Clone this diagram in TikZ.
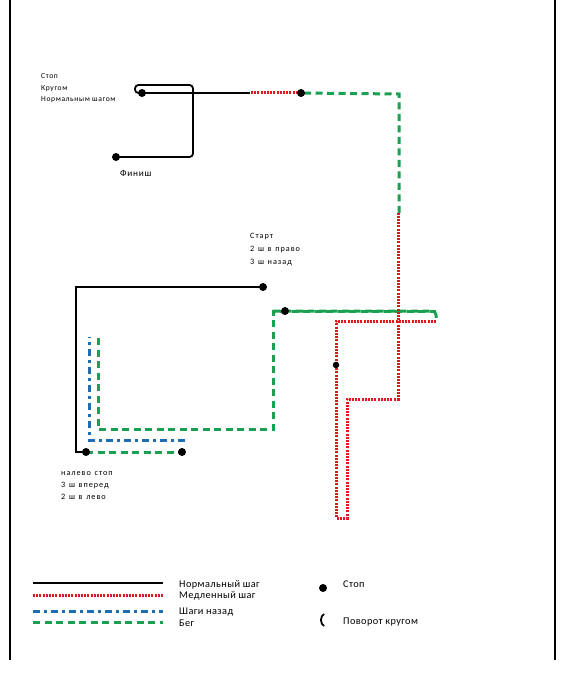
\documentclass[tikz,border=0pt]{standalone}
\usepackage{fontspec}
\setmainfont{Carlito}
\newfontfamily\topfont[LetterSpace=8]{Carlito}
\newfontfamily\midfont[LetterSpace=12,WordSpace=1.3]{Carlito}
\newfontfamily\legfont[LetterSpace=4]{Carlito}
\newfontfamily\finfont[LetterSpace=8]{Carlito}
\begin{document}
\begin{tikzpicture}[x=1pt,y=-1pt,
  normal/.style={line width=1.8pt,black},
  slow/.style={line width=3pt,color=rtred,dash pattern=on 2pt off 1.2pt},
  back/.style={line width=3pt,color=rtblue,dash pattern=on 7pt off 4pt on 3pt off 4pt},
  run/.style={line width=3pt,color=rtgreen,dash pattern=on 7pt off 4.5pt},
  stopdot/.style={circle,fill=black,inner sep=0pt,minimum size=8pt},
  small/.style={font=\topfont\fontsize{7.6}{8}\selectfont,inner sep=0pt,anchor=base west},
  mid/.style={font=\midfont\fontsize{8.2}{9}\selectfont,inner sep=0pt,anchor=base west},
  leg/.style={font=\legfont\fontsize{10.3}{12}\selectfont,inner sep=0pt,anchor=base west},
  fin/.style={font=\finfont\fontsize{9.3}{10}\selectfont,inner sep=0pt,anchor=base west},
  frame/.style={line width=1.1pt,black}]
\definecolor{rtred}{RGB}{225,25,30}
\definecolor{rtgreen}{RGB}{25,160,80}
\definecolor{rtblue}{RGB}{30,110,180}
\useasboundingbox (0,0) rectangle (564,684);
\fill[white] (0,0) rectangle (564,684);
% frame lines
\draw[frame] (10,0) -- (10,660);
\draw[frame] (555,0) -- (555,660);

% coordinates of the route
\coordinate (s1) at (263,287);
\coordinate (s2) at (76,287);
\coordinate (s3) at (76,452);
\coordinate (s4) at (86,452);
\coordinate (s5) at (182,452);
\coordinate (b1) at (185,440);
\coordinate (b2) at (89,440);
\coordinate (b3) at (89,337);
\coordinate (g1) at (98,338);
\coordinate (g2) at (98,429);
\coordinate (g3) at (273,429);
\coordinate (g4) at (273,311);
\coordinate (g5) at (436,311);
\coordinate (g6) at (436,321);
\coordinate (r1) at (436,321);
\coordinate (r2) at (336,321);
\coordinate (r3) at (336,518);
\coordinate (r4) at (347,518);
\coordinate (r5) at (347,399);
\coordinate (r6) at (398,399);
\coordinate (r7) at (398,213);
\coordinate (t1) at (399,213);
\coordinate (t2) at (399,94);
\coordinate (t3) at (301,93);
\coordinate (t4) at (250,93);
\coordinate (k1) at (142,93);
\coordinate (k2) at (193,85);
\coordinate (k3) at (193,157);
\coordinate (k4) at (116,157);

% paths
\draw[normal] (s1) -- (s2) -- (s3) -- (s4);
\draw[run] (s4) -- (s5);
\draw[back] (b1) -- (b2) -- (b3);
\draw[run] (g1) -- (g2) -- (g3) -- (g4) -- (g5);
\draw[run,rounded corners=4pt] (g4) -- (g5) -- (g6);
\draw[slow] (r1) -- (r2) -- (r3) -- (r4) -- (r5) -- (r6) -- (r7);
\draw[run] (t1) -- (t2) -- (t3);
\draw[slow] (t3) -- (t4);
\draw[normal] (t4) -- (k1);
\draw[normal,rounded corners=3.5pt] (k1) -- (135,93) -- (135,85) -- (k2) -- (k3) -- (k4);

% stop dots
\node[stopdot] (d1) at (s1) {};
\node[stopdot] (d2) at (s4) {};
\node[stopdot] (d3) at (s5) {};
\node[stopdot] (d4) at (285,311) {};
\node[stopdot,minimum size=6.5pt] (d5) at (336,365) {};
\node[stopdot] (d6) at (t3) {};
\node[stopdot] (d7) at (k1) {};
\node[stopdot] (d8) at (k4) {};

% labels
\node[small] (lt1) at (41,79) {Стоп};
\node[small] (lt2) at (41,90.5) {Кругом};
\node[small] (lt3) at (41,102) {Нормальным шагом};
\node[mid] (ls1) at (250,239) {Старт};
\node[mid] (ls2) at (250,251.5) {2 ш в право};
\node[mid] (ls3) at (250,264) {3 ш назад};
\node[mid] (ll1) at (61,475) {налево стоп};
\node[mid] (ll2) at (61,487) {3 ш вперед};
\node[mid] (ll3) at (61,499) {2 ш в лево};
\node[fin] (lf) at (120,177) {Финиш};

% legend
\coordinate (la1) at (33,583); \coordinate (lb1) at (163,583);
\coordinate (la2) at (33,595); \coordinate (lb2) at (163,595);
\coordinate (la3) at (33,611); \coordinate (lb3) at (163,611);
\coordinate (la4) at (33,622); \coordinate (lb4) at (163,622);
\draw[normal] (la1) -- (lb1);
\draw[slow] (la2) -- (lb2);
\draw[back] (la3) -- (lb3);
\draw[run] (la4) -- (lb4);
\node[leg] (n1) at (179,587) {Нормальный шаг};
\node[leg] (n2) at (179,598.5) {Медленный шаг};
\node[leg] (n3) at (179,614.5) {Шаги назад};
\node[leg] (n4) at (179,626) {Бег};
\node[stopdot] (ldot) at (323,588) {};
\node[leg] (n5) at (343,587) {Стоп};
\draw[line width=1.8pt] (324,614) .. controls (320,616) and (320,624) .. (324,626);
\node[leg] (n6) at (343,624) {Поворот кругом};
\end{tikzpicture}
\end{document}
